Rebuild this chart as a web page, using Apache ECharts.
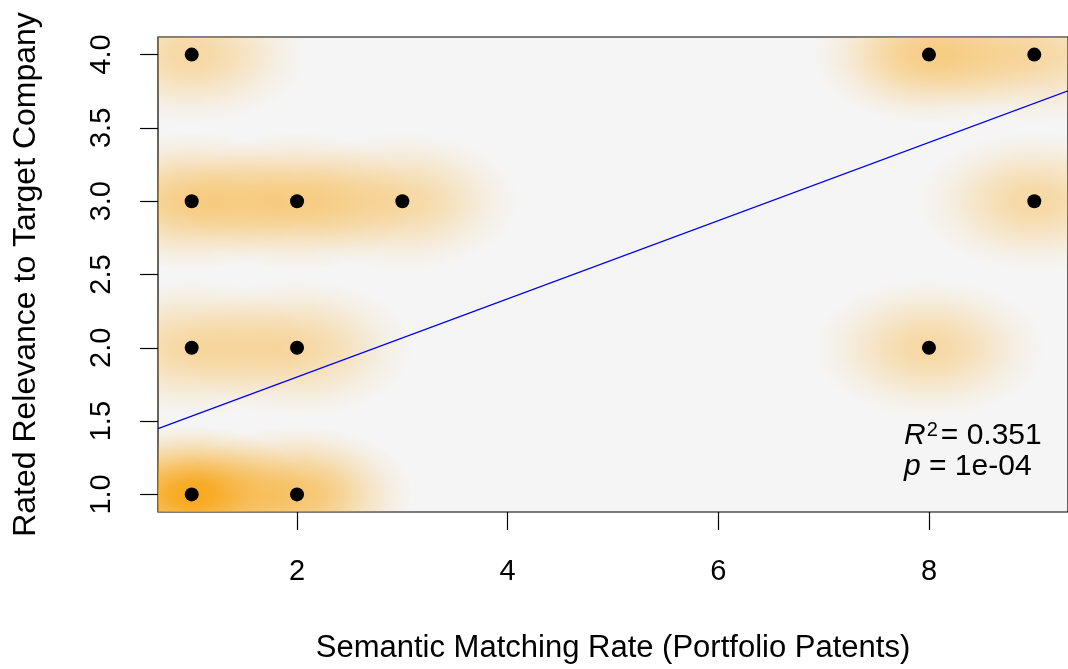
<!DOCTYPE html>
<html>
<head>
<meta charset="utf-8">
<script src="https://cdn.jsdelivr.net/npm/echarts@6/dist/echarts.min.js"></script>
<style>
html,body{margin:0;padding:0;background:#fff;}
#chart{width:1068px;height:669px;}
</style>
</head>
<body>
<div id="chart"></div>
<script>
// Observations (semantic matching rate, rated relevance)
const pointsX = [1, 2, 1, 2, 1, 2, 3, 1, 8, 9, 9, 8];
const pointsY = [1, 1, 2, 2, 3, 3, 3, 4, 2, 3, 4, 4];
// estimated number of overlapping observations at each location (drives density shading)
const pointCounts = [14, 4, 2, 2, 3, 3, 2, 2, 2, 2, 2, 3];
// fitted regression line end points
const fitX = [0.68, 9.32];
const fitY = [1.448, 3.753];
const xTicks = [2, 4, 6, 8];
const yTicks = [1.0, 1.5, 2.0, 2.5, 3.0, 3.5, 4.0];
const statLines = ['0.351', '1e-04'];

const FONT = 'Liberation Sans, Arial, sans-serif';
const chart = echarts.init(document.getElementById('chart'));

const densityData = pointsX.map((x, i) => [x, pointsY[i], pointCounts[i]]);
const scatterData = pointsX.map((x, i) => [x, pointsY[i]]);
const fitData = fitX.map((x, i) => [x, fitY[i]]);

function glowFill(a) {
  const c = (k) => 'rgba(248,164,18,' + Math.min(1, a * k).toFixed(3) + ')';
  return {
    type: 'radial', x: 0.5, y: 0.5, r: 0.5,
    colorStops: [
      {offset: 0, color: c(1)},
      {offset: 0.2, color: c(0.92)},
      {offset: 0.4, color: c(0.68)},
      {offset: 0.6, color: c(0.4)},
      {offset: 0.8, color: c(0.16)},
      {offset: 1, color: c(0)}
    ]
  };
}

const option = {
  backgroundColor: '#ffffff',
  animation: false,
  grid: {
    left: 158, top: 37, width: 914, height: 476,
    show: true, backgroundColor: '#F5F5F5', borderColor: '#000', borderWidth: 1.2
  },
  xAxis: {
    type: 'value', min: 0.68, max: 9.32,
    name: 'Semantic Matching Rate (Portfolio Patents)',
    nameLocation: 'middle', nameGap: 121,
    nameTextStyle: {fontFamily: FONT, fontSize: 31, color: '#000'},
    axisLine: {show: false},
    splitLine: {show: false},
    axisTick: {show: true, length: 18, inside: false, customValues: xTicks, lineStyle: {color: '#000', width: 1.2}},
    axisLabel: {customValues: xTicks, margin: 45, fontFamily: FONT, fontSize: 29, color: '#000'}
  },
  yAxis: {
    type: 'value', min: 0.88, max: 4.12,
    name: 'Rated Relevance to Target Company',
    nameLocation: 'middle', nameGap: 116, nameRotate: 90,
    nameTextStyle: {fontFamily: FONT, fontSize: 32, color: '#000'},
    axisLine: {show: false},
    splitLine: {show: false},
    axisTick: {show: true, length: 18, inside: false, customValues: yTicks, lineStyle: {color: '#000', width: 1.2}},
    axisLabel: {customValues: yTicks, rotate: 90, margin: 42, fontFamily: FONT, fontSize: 29, color: '#000',
      formatter: (v) => Number(v).toFixed(1)}
  },
  series: [
    {
      type: 'custom',
      clip: true,
      data: densityData,
      renderItem: function (params, api) {
        const c = api.coord([api.value(0), api.value(1)]);
        const n = api.value(2);
        const a = 1 - Math.pow(1 - 0.2, n);
        const sz = api.size([1.1, 0.47]);
        return {
          type: 'circle',
          x: c[0], y: c[1],
          scaleX: sz[0] / 100, scaleY: sz[1] / 100,
          shape: {cx: 0, cy: 0, r: 100},
          style: {fill: glowFill(a)},
          silent: true
        };
      },
      z: 1
    },
    {
      type: 'line',
      data: fitData,
      showSymbol: false,
      clip: true,
      lineStyle: {color: '#0000FF', width: 1.3},
      z: 2
    },
    {
      type: 'scatter',
      data: scatterData,
      symbol: 'circle',
      symbolSize: 14,
      itemStyle: {color: '#000', opacity: 1},
      z: 3
    }
  ],
  graphic: [
    {
      type: 'text',
      left: 904, top: 420,
      style: {
        text: '{i|R}{s|2}{n|= ' + statLines[0] + '}\n{i|p}{n| = ' + statLines[1] + '}',
        rich: {
          i: {fontFamily: FONT, fontSize: 30, fontStyle: 'italic', color: '#000', lineHeight: 31},
          s: {fontFamily: FONT, fontSize: 20, color: '#000', verticalAlign: 'top', lineHeight: 31, padding: [0, 3, 16, 1]},
          n: {fontFamily: FONT, fontSize: 30, color: '#000', lineHeight: 31}
        }
      },
      z: 10
    }
  ]
};
chart.setOption(option);
</script>
</body>
</html>
